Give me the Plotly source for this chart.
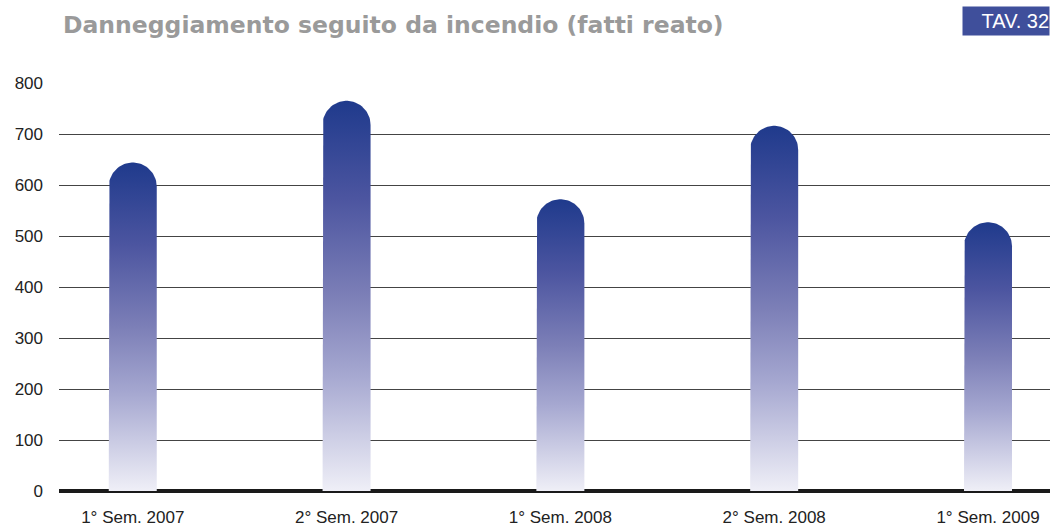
import numpy as np
import plotly.graph_objects as go

categories = ["1° Sem. 2007", "2° Sem. 2007", "1° Sem. 2008", "2° Sem. 2008", "1° Sem. 2009"]
values = [644, 765, 572, 716, 527]
y_ticks = [0, 100, 200, 300, 400, 500, 600, 700, 800]

title_text = "Danneggiamento seguito da incendio (fatti reato)"
tav_text = "TAV. 32"

W, H = 1050, 528
ml, mr, mt, mb = 59, 0, 83, 37
x_range = [-0.345, 4.29]
y_range = [0, 800]
plot_w = W - ml - mr
plot_h = H - mt - mb
px_x = plot_w / (x_range[1] - x_range[0])
px_y = plot_h / (y_range[1] - y_range[0])

bar_half_px = 24
hw = bar_half_px / px_x
cap_h = bar_half_px / px_y

fig = go.Figure()
scale = [[0.0, "#efeff7"], [0.3, "#a5a7d0"], [0.5, "#7c7fb7"], [0.75, "#4c55a0"], [1.0, "#1f3a8c"]]
for i, v in enumerate(values):
    t = np.linspace(np.pi, 0, 40)
    xs = [i - hw, i - hw] + list(i + hw * np.cos(t)) + [i + hw, i + hw, i - hw]
    ys = [0, v - cap_h] + list(v - cap_h + cap_h * np.sin(t)) + [v - cap_h, 0, 0]
    fig.add_trace(go.Scatter(
        x=xs, y=ys, mode="lines", fill="toself",
        line=dict(width=0, color="rgba(0,0,0,0)"),
        fillgradient=dict(type="vertical", colorscale=scale),
        hoverinfo="skip", showlegend=False,
    ))

fig.update_layout(
    width=W, height=H,
    margin=dict(l=ml, r=mr, t=mt, b=mb),
    paper_bgcolor="white", plot_bgcolor="white",
    font=dict(family="Liberation Sans, Arial, sans-serif", color="#222"),
    xaxis=dict(range=x_range, tickvals=list(range(len(categories))), ticktext=categories,
               showgrid=False, zeroline=False, showline=False, ticks="",
               tickfont=dict(size=17, color="#222"), ticklabelstandoff=14),
    yaxis=dict(range=y_range, tickvals=y_ticks, showgrid=True, gridcolor="#444",
               gridwidth=1, zeroline=True, zerolinecolor="#1a1a1a", zerolinewidth=4,
               ticks="", tickfont=dict(size=17, color="#222"), ticklabelstandoff=15,
               layer="above traces"),
    annotations=[
        dict(text="<b>" + title_text + "</b>", xref="paper", yref="paper", x=0, xshift=2,
             y=1 + (mt - 25) / plot_h, xanchor="left", yanchor="middle", showarrow=False,
             font=dict(size=23.5, color="#9a9a9a", family="DejaVu Sans, sans-serif")),
        dict(text=tav_text, xref="paper", yref="paper", x=1, y=1 + (mt - 21) / plot_h,
             xanchor="right", yanchor="middle", showarrow=False, bgcolor="#3f4f9b",
             width=86, height=28, borderpad=0, align="right",
             font=dict(size=20, color="white", family="Liberation Sans Narrow, Liberation Sans, sans-serif")),
    ],
)
fig.write_html(
    "out.html",
    config={"displayModeBar": False},
    post_script="document.body.style.margin='0';document.documentElement.style.overflow='hidden';document.body.style.overflow='hidden';",
)
